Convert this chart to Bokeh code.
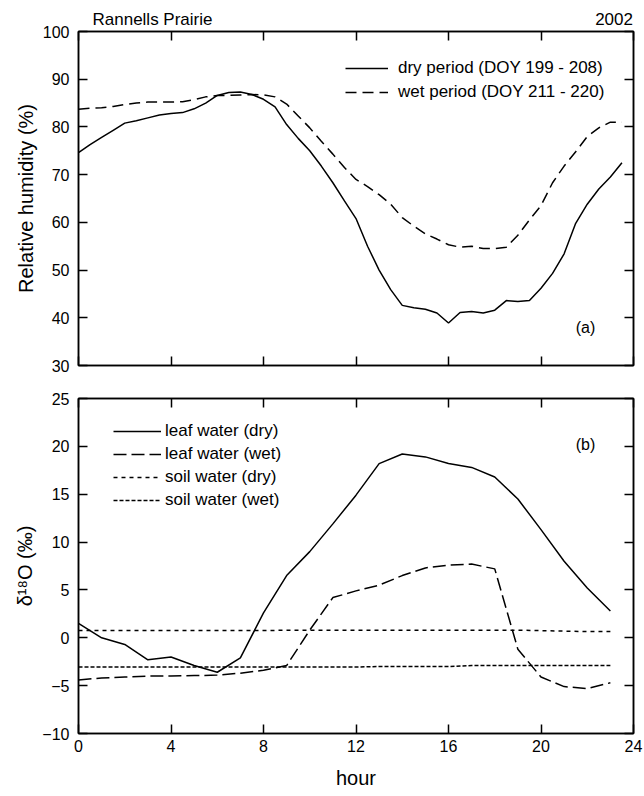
from bokeh.plotting import figure
from bokeh.layouts import column
from bokeh.models import (Range1d, FixedTicker, LinearAxis, Legend, LegendItem,
                          Label, CustomJSTickFormatter)
from bokeh.embed import file_html
from bokeh.resources import INLINE

FONT = "Liberation Sans"

# ---------------- data ----------------
hours_rh = [0, 0.5, 1, 1.5, 2, 2.5, 3, 3.5, 4, 4.5, 5, 5.5, 6, 6.5, 7, 7.5,
            8, 8.5, 9, 9.5, 10, 10.5, 11, 11.5, 12, 12.5, 13, 13.5, 14, 14.5,
            15, 15.5, 16, 16.5, 17, 17.5, 18, 18.5, 19, 19.5, 20, 20.5, 21,
            21.5, 22, 22.5, 23, 23.5]
rh_dry = [74.6, 76.3, 77.8, 79.3, 80.8, 81.3, 81.9, 82.5, 82.8, 83.0, 83.8,
          85.0, 86.6, 87.2, 87.3, 86.8, 85.8, 84.2, 80.5, 77.6, 75.0, 71.8,
          68.3, 64.5, 60.8, 55.0, 50.0, 45.9, 42.6, 42.1, 41.8, 41.0, 38.9,
          41.1, 41.3, 41.0, 41.6, 43.6, 43.4, 43.6, 46.2, 49.3, 53.4, 59.8,
          63.8, 67.0, 69.5, 72.5]
rh_wet = [83.7, 83.9, 84.0, 84.3, 84.7, 85.0, 85.2, 85.2, 85.2, 85.3, 85.7,
          86.3, 86.6, 86.6, 86.7, 86.8, 86.7, 86.3, 84.8, 82.3, 79.8, 77.0,
          74.3, 71.5, 69.0, 67.5, 65.8, 63.8, 61.0, 59.2, 57.6, 56.5, 55.3,
          54.8, 55.0, 54.5, 54.5, 54.8, 57.3, 60.5, 63.5, 68.3, 71.8, 74.8,
          78.0, 79.8, 81.0, 81.0]

hours_iso = [0, 1, 2, 3, 4, 5, 6, 7, 8, 9, 10, 11, 12, 13, 14, 15, 16, 17,
             18, 19, 20, 21, 22, 23]
leaf_dry = [1.5, 0.0, -0.7, -2.3, -2.0, -2.9, -3.6, -2.1, 2.6, 6.5, 9.0,
            11.9, 14.9, 18.2, 19.2, 18.9, 18.2, 17.8, 16.8, 14.5, 11.3, 8.0,
            5.2, 2.8]
leaf_wet = [-4.4, -4.2, -4.1, -4.0, -4.0, -3.95, -3.9, -3.7, -3.4, -2.9, 0.8,
            4.2, 4.9, 5.5, 6.5, 7.3, 7.6, 7.7, 7.2, -1.2, -4.1, -5.1, -5.3,
            -4.7]
soil_dry = [0.75, 0.75, 0.75, 0.75, 0.75, 0.75, 0.75, 0.75, 0.75, 0.8, 0.8,
            0.8, 0.8, 0.8, 0.8, 0.8, 0.8, 0.8, 0.8, 0.8, 0.75, 0.7, 0.65, 0.65]
soil_wet = [-3.05, -3.05, -3.05, -3.05, -3.05, -3.05, -3.05, -3.05, -3.05,
            -3.05, -3.05, -3.05, -3.05, -3.0, -3.0, -3.0, -3.0, -2.9, -2.9,
            -2.9, -2.9, -2.9, -2.9, -2.9]

x_ticks = [0, 4, 8, 12, 16, 20, 24]
rh_ticks = [30, 40, 50, 60, 70, 80, 90, 100]
iso_ticks = [-10, -5, 0, 5, 10, 15, 20, 25]

site_label = "Rannells Prairie"
year_label = "2002"
header_pos = [3.2, 23.16]   # centres of the two header texts, in hours

TICK_FS = "16px"
LAB_FS = "20px"
LEG_FS = "17px"


def blank():
    return CustomJSTickFormatter(code="return ''")


def style_axis(ax, ticks, labels=True):
    ax.ticker = FixedTicker(ticks=ticks)
    ax.major_tick_in = 9
    ax.major_tick_out = 0
    ax.minor_tick_line_color = None
    ax.axis_line_width = 1.5
    ax.major_tick_line_width = 1.5
    ax.axis_line_color = "black"
    ax.major_tick_line_color = "black"
    ax.major_label_text_font = FONT
    ax.major_label_text_font_size = TICK_FS
    ax.major_label_text_color = "black"
    ax.axis_label_text_font = FONT
    ax.axis_label_text_font_size = LAB_FS
    ax.axis_label_text_font_style = "normal"
    ax.axis_label_text_color = "black"
    if not labels:
        ax.formatter = blank()
        ax.major_label_standoff = 0
        ax.major_label_text_font_size = "10px"


def make_fig(yr, height, top, bottom):
    p = figure(width=644, height=height, x_range=Range1d(0, 24), y_range=yr,
               output_backend="svg", toolbar_location=None,
               min_border_left=78, min_border_right=11,
               min_border_top=top, min_border_bottom=bottom)
    p.xgrid.visible = False
    p.ygrid.visible = False
    p.outline_line_color = "black"
    p.outline_line_width = 1.5
    p.background_fill_color = "white"
    p.border_fill_color = "white"
    return p


def legend(items, loc, spacing, gw, standoff):
    return Legend(items=items, location=loc, padding=0, margin=0,
                  spacing=spacing, glyph_width=gw, glyph_height=20,
                  label_height=20, label_standoff=standoff,
                  label_text_font=FONT, label_text_font_size=LEG_FS,
                  label_text_color="black", border_line_color=None,
                  background_fill_alpha=0)


def panel_label(p, x, y, txt):
    p.add_layout(Label(x=x, y=y, text=txt, text_font=FONT,
                       text_font_size="16px", text_baseline="middle",
                       text_align="left", text_color="black"))


# ---------------- panel (a) ----------------
p1 = make_fig(Range1d(30, 100), 385, 31, 20)
r_dry = p1.line(hours_rh, rh_dry, line_color="black", line_width=1.5)
r_wet = p1.line(hours_rh, rh_wet, line_color="black", line_width=1.5,
                line_dash="11 6")
style_axis(p1.xaxis[0], x_ticks, labels=False)
style_axis(p1.yaxis[0], rh_ticks)
p1.yaxis[0].axis_label = "Relative humidity (%)"
p1.yaxis[0].major_label_standoff = 9
p1.yaxis[0].axis_label_standoff = 3
ax_r1 = LinearAxis()
style_axis(ax_r1, rh_ticks, labels=False)
p1.add_layout(ax_r1, "right")

# top axis: minor ticks give the tick marks, two major "ticks" carry the header texts
ax_t1 = LinearAxis()
style_axis(ax_t1, x_ticks)
ax_t1.ticker = FixedTicker(ticks=header_pos, minor_ticks=x_ticks)
ax_t1.major_tick_line_color = None
ax_t1.minor_tick_line_color = "black"
ax_t1.minor_tick_line_width = 1.5
ax_t1.minor_tick_in = 9
ax_t1.minor_tick_out = 0
ax_t1.major_label_standoff = 3
ax_t1.major_label_text_font_size = "17px"
ax_t1.formatter = CustomJSTickFormatter(
    args=dict(a=site_label, b=year_label), code="return tick < 12 ? a : b")
p1.add_layout(ax_t1, "above")

p1.add_layout(legend([LegendItem(label="dry period (DOY 199 - 208)", renderers=[r_dry]),
                      LegendItem(label="wet period (DOY 211 - 220)", renderers=[r_wet])],
                     (267, 263), 4, 43, 10))
panel_label(p1, 21.5, 38.0, "(a)")

# ---------------- panel (b) ----------------
p2 = make_fig(Range1d(-10, 25), 411, 13, 63)
r_ld = p2.line(hours_iso, leaf_dry, line_color="black", line_width=1.5)
r_lw = p2.line(hours_iso, leaf_wet, line_color="black", line_width=1.5,
               line_dash="13 5")
r_sd = p2.line(hours_iso, soil_dry, line_color="black", line_width=1.5,
               line_dash="4 4")
r_sw = p2.line(hours_iso, soil_wet, line_color="black", line_width=1.5,
               line_dash="4 2")
style_axis(p2.xaxis[0], x_ticks)
p2.xaxis[0].axis_label = "hour"
p2.xaxis[0].major_label_standoff = 6
p2.xaxis[0].axis_label_standoff = 12
style_axis(p2.yaxis[0], iso_ticks)
p2.yaxis[0].axis_label = "δ¹⁸O (‰)"
p2.yaxis[0].major_label_standoff = 9
p2.yaxis[0].axis_label_standoff = 3
ax_r2 = LinearAxis()
style_axis(ax_r2, iso_ticks, labels=False)
p2.add_layout(ax_r2, "right")
ax_t2 = LinearAxis()
style_axis(ax_t2, x_ticks, labels=False)
p2.add_layout(ax_t2, "above")

p2.add_layout(legend([LegendItem(label="leaf water (dry)", renderers=[r_ld]),
                      LegendItem(label="leaf water (wet)", renderers=[r_lw]),
                      LegendItem(label="soil water (dry)", renderers=[r_sd]),
                      LegendItem(label="soil water (wet)", renderers=[r_sw])],
                     (35, 223), 3, 48, 4))
panel_label(p2, 21.5, 20.2, "(b)")

layout = column(p1, p2, spacing=0)
open("out.html", "w").write(file_html(layout, INLINE))
